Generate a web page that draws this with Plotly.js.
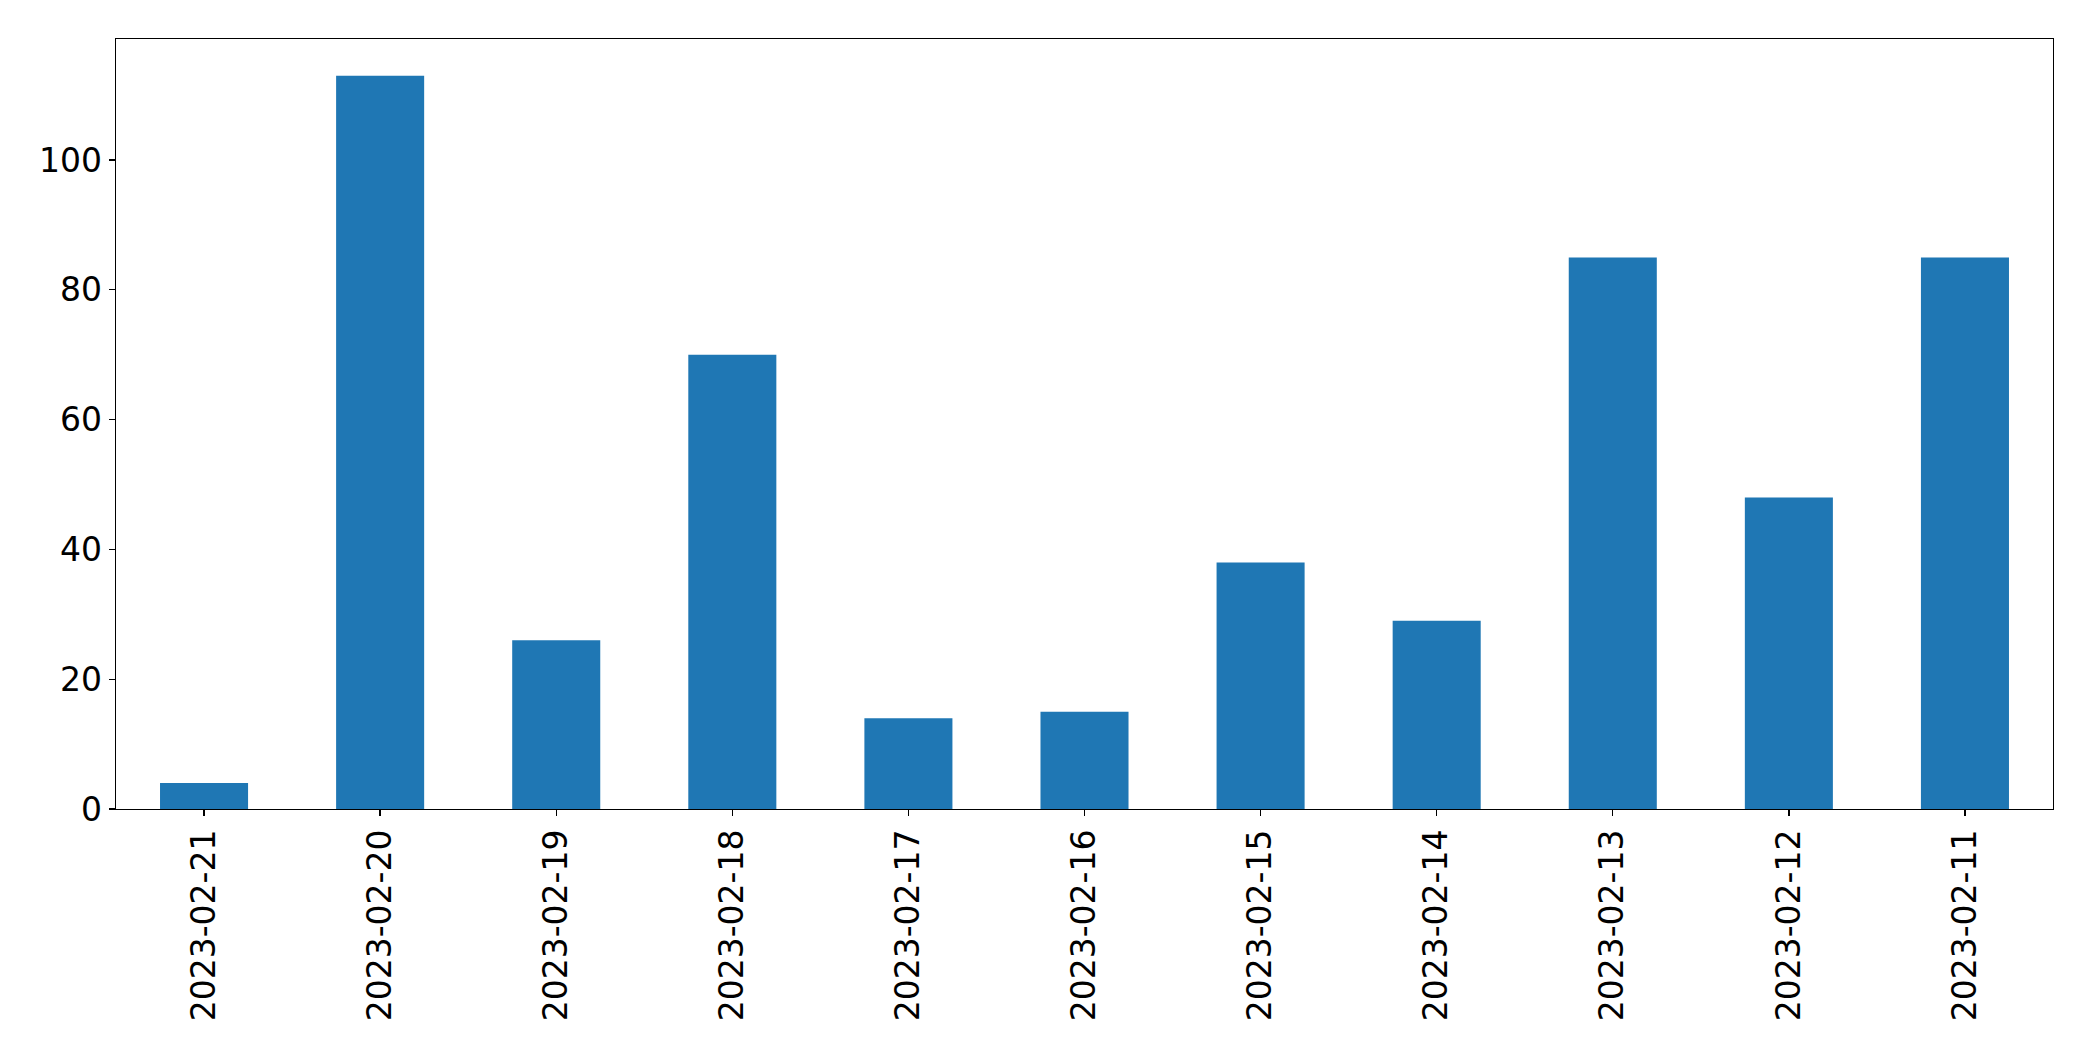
<!DOCTYPE html>
<html>
<head>
<meta charset="utf-8">
<script src="https://cdn.plot.ly/plotly-3.0.1.min.js"></script>
<style>html,body{margin:0;padding:0;background:#fff;}#chart{width:2093px;height:1061px;}</style>
</head>
<body>
<div id="chart"></div>
<script>
const categories = ["2023-02-21","2023-02-20","2023-02-19","2023-02-18","2023-02-17","2023-02-16","2023-02-15","2023-02-14","2023-02-13","2023-02-12","2023-02-11"];
const values = [4, 113, 26, 70, 14, 15, 38, 29, 85, 48, 85];
const yTicks = [0, 20, 40, 60, 80, 100];

const trace = {
  type: 'bar',
  x: categories,
  y: values,
  width: 0.5,
  marker: {color: '#1f77b4', line: {width: 0}},
  hoverinfo: 'x+y'
};

const font = {family: 'DejaVu Sans, sans-serif', size: 33, color: '#000'};

const layout = {
  width: 2093,
  height: 1061,
  margin: {l: 116, r: 40, t: 39, b: 252, pad: 0},
  paper_bgcolor: '#fff',
  plot_bgcolor: '#fff',
  showlegend: false,
  font: font,
  xaxis: {
    type: 'category',
    range: [-0.5, categories.length - 0.5],
    tickangle: -90,
    ticks: 'outside',
    ticklen: 6,
    tickwidth: 1.3,
    tickcolor: '#000',
    showline: true,
    linecolor: '#000',
    linewidth: 1.3,
    mirror: true,
    showgrid: false,
    zeroline: false,
    tickfont: font
  },
  yaxis: {
    range: [0, 118.65],
    tickvals: yTicks,
    ticktext: yTicks.map(String),
    ticks: 'outside',
    ticklen: 6,
    tickwidth: 1.3,
    tickcolor: '#000',
    showline: true,
    linecolor: '#000',
    linewidth: 1.3,
    mirror: true,
    showgrid: false,
    zeroline: false,
    tickfont: font
  }
};

Plotly.newPlot('chart', [trace], layout, {displayModeBar: false, staticPlot: true});
</script>
</body>
</html>
